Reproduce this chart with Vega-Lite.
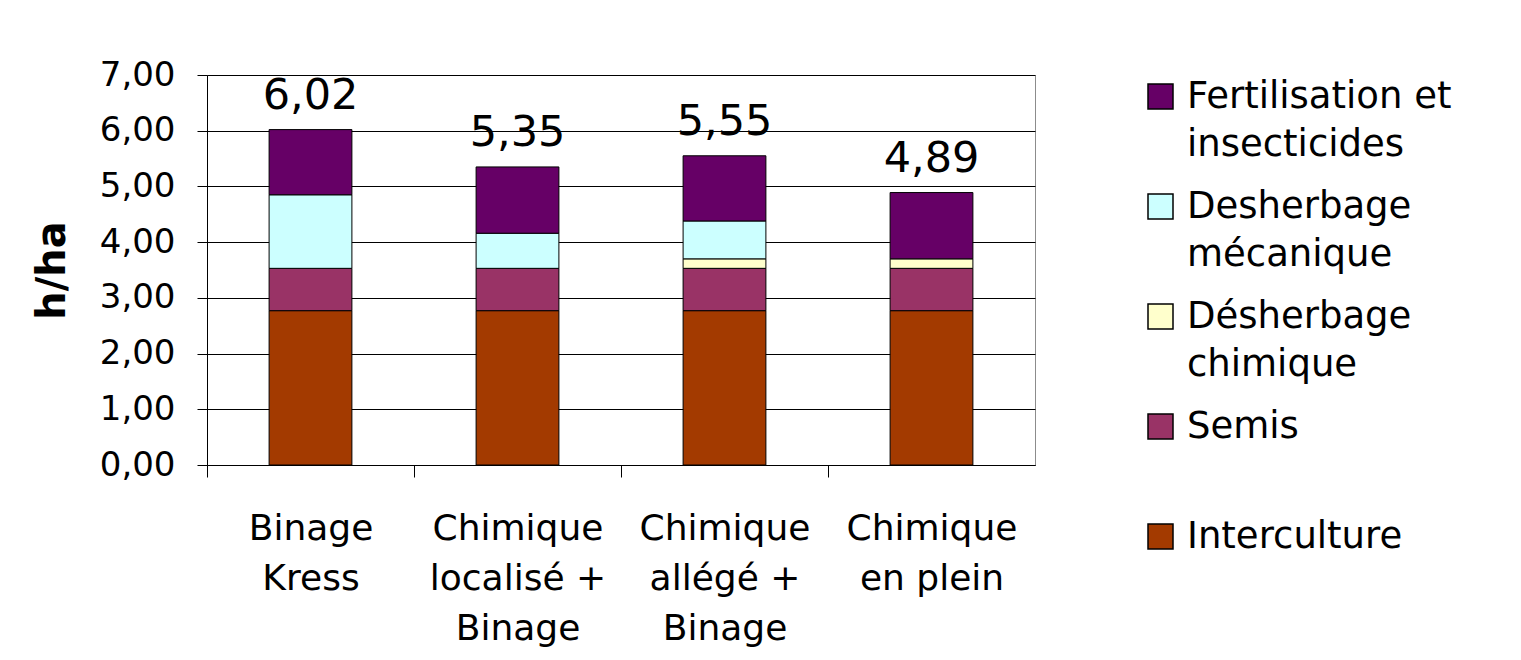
{
  "$schema": "https://vega.github.io/schema/vega-lite/v6.json",
  "width": 828,
  "height": 390,
  "autosize": {"type": "none"},
  "padding": {"left": 207, "top": 75, "right": 486, "bottom": 195},
  "background": "white",
  "config": {
    "locale": {"number": {"decimal": ",", "thousands": " ", "grouping": [3], "currency": ["", " €"]}},
    "font": "DejaVu Sans",
    "view": {"stroke": "#8c8c8c", "strokeWidth": 1},
    "axis": {"labelColor": "black", "titleColor": "black", "domainColor": "black", "tickColor": "black", "domainWidth": 1, "tickWidth": 1}
  },
  "data": {
    "values": [
      {"strategie": "Binage Kress", "categorie": "Interculture", "valeur": 2.77, "ordre": 1},
      {"strategie": "Binage Kress", "categorie": "Semis", "valeur": 0.76, "ordre": 2},
      {"strategie": "Binage Kress", "categorie": "Desherbage mécanique", "valeur": 1.32, "ordre": 4},
      {"strategie": "Binage Kress", "categorie": "Fertilisation et insecticides", "valeur": 1.17, "ordre": 5},
      {"strategie": "Chimique localisé + Binage", "categorie": "Interculture", "valeur": 2.77, "ordre": 1},
      {"strategie": "Chimique localisé + Binage", "categorie": "Semis", "valeur": 0.76, "ordre": 2},
      {"strategie": "Chimique localisé + Binage", "categorie": "Desherbage mécanique", "valeur": 0.63, "ordre": 4},
      {"strategie": "Chimique localisé + Binage", "categorie": "Fertilisation et insecticides", "valeur": 1.19, "ordre": 5},
      {"strategie": "Chimique allégé + Binage", "categorie": "Interculture", "valeur": 2.77, "ordre": 1},
      {"strategie": "Chimique allégé + Binage", "categorie": "Semis", "valeur": 0.76, "ordre": 2},
      {"strategie": "Chimique allégé + Binage", "categorie": "Désherbage chimique", "valeur": 0.17, "ordre": 3},
      {"strategie": "Chimique allégé + Binage", "categorie": "Desherbage mécanique", "valeur": 0.68, "ordre": 4},
      {"strategie": "Chimique allégé + Binage", "categorie": "Fertilisation et insecticides", "valeur": 1.17, "ordre": 5},
      {"strategie": "Chimique en plein", "categorie": "Interculture", "valeur": 2.77, "ordre": 1},
      {"strategie": "Chimique en plein", "categorie": "Semis", "valeur": 0.76, "ordre": 2},
      {"strategie": "Chimique en plein", "categorie": "Désherbage chimique", "valeur": 0.17, "ordre": 3},
      {"strategie": "Chimique en plein", "categorie": "Fertilisation et insecticides", "valeur": 1.19, "ordre": 5}
    ]
  },
  "layer": [
    {
      "mark": {"type": "bar", "stroke": "black", "strokeWidth": 1},
      "encoding": {
        "x": {
          "field": "strategie", "type": "nominal",
          "sort": ["Binage Kress", "Chimique localisé + Binage", "Chimique allégé + Binage", "Chimique en plein"],
          "scale": {"paddingInner": 0.6, "paddingOuter": 0.3},
          "axis": {
            "title": null, "labelAngle": 0, "labelFontSize": 36, "labelLineHeight": 50,
            "labelPadding": 34, "tickSize": 12, "tickOffset": -103.5, "labelOffset": 103.5, "labelLimit": 400,
            "labelExpr": "datum.label == 'Binage Kress' ? ['Binage', 'Kress'] : datum.label == 'Chimique localisé + Binage' ? ['Chimique', 'localisé +', 'Binage'] : datum.label == 'Chimique allégé + Binage' ? ['Chimique', 'allégé +', 'Binage'] : ['Chimique', 'en plein']"
          }
        },
        "y": {
          "field": "valeur", "type": "quantitative",
          "scale": {"domain": [0, 7], "nice": false},
          "axis": {
            "title": "h/ha", "titleFontSize": 40, "titleFontWeight": "bold", "titlePadding": 27,
            "values": [0, 1, 2, 3, 4, 5, 6, 7], "format": ".2f",
            "labelFontSize": 34, "labelPadding": 22, "tickSize": 10,
            "grid": true, "gridColor": "black", "gridWidth": 1
          }
        },
        "color": {
          "field": "categorie", "type": "nominal",
          "scale": {
            "domain": ["Fertilisation et insecticides", "Desherbage mécanique", "Désherbage chimique", "Semis", "Interculture"],
            "range": ["#660066", "#ccffff", "#ffffcc", "#993366", "#a33a00"]
          },
          "legend": {
            "title": null, "orient": "right", "offset": 104, "padding": 3,
            "symbolType": "square", "symbolSize": 625, "symbolStrokeColor": "black", "symbolStrokeWidth": 1.5,
            "labelFontSize": 37, "labelLimit": 400, "labelOffset": 8, "labelColor": "black",
            "rowPadding": 24,
            "labelExpr": "datum.label == 'Fertilisation et insecticides' ? ['Fertilisation et', 'insecticides'] : datum.label == 'Desherbage mécanique' ? ['Desherbage', 'mécanique'] : datum.label == 'Désherbage chimique' ? ['Désherbage', 'chimique'] : [datum.label, '']",
            "encode": {"labels": {"update": {"lineHeight": {"value": 48}}}}
          }
        },
        "order": {"field": "ordre", "type": "quantitative"}
      }
    },
    {
      "transform": [{"aggregate": [{"op": "sum", "field": "valeur", "as": "total"}], "groupby": ["strategie"]}],
      "mark": {"type": "text", "fontSize": 43, "dy": -21, "baseline": "alphabetic", "color": "black"},
      "encoding": {
        "x": {"field": "strategie", "type": "nominal", "sort": ["Binage Kress", "Chimique localisé + Binage", "Chimique allégé + Binage", "Chimique en plein"]},
        "y": {"field": "total", "type": "quantitative"},
        "text": {"field": "total", "type": "quantitative", "format": ".2f"}
      }
    }
  ]
}
